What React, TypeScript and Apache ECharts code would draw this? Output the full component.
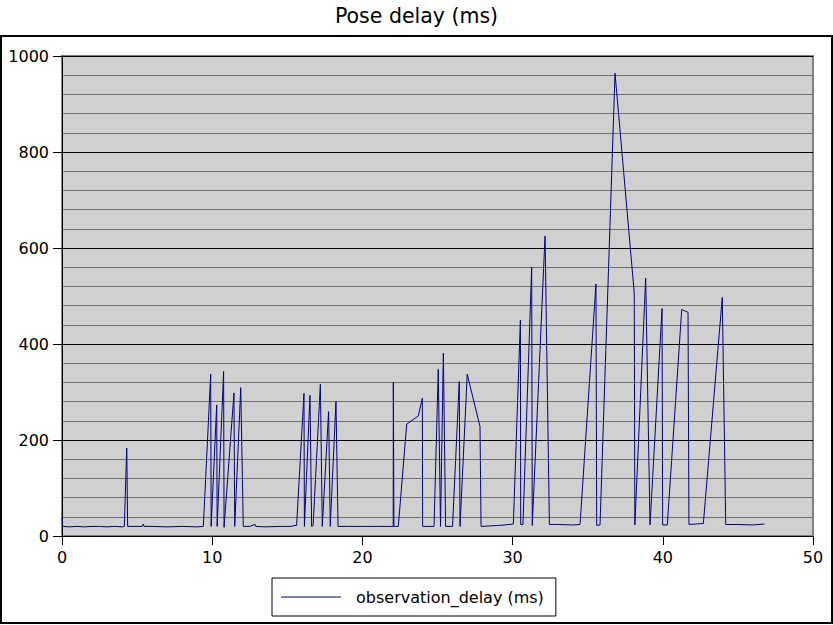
import React, { useEffect, useRef } from "react";
import * as echarts from "echarts";

const titleText = "Pose delay (ms)";
const seriesName = "observation_delay (ms)";

const timeS: number[] = [
  0, 0.05, 0.5, 1.0, 1.5, 2.0, 2.5, 3.0, 3.5, 4.0, 4.15, 4.31, 4.37, 4.8, 5.35, 5.41, 5.47, 6.0, 7.0, 8.0, 9.0,
  9.41, 9.9, 9.93, 10.3, 10.33, 10.76, 10.79, 11.45, 11.5, 11.9, 12.07, 12.5, 12.85, 12.9, 13.5, 14.5, 15.3,
  15.45, 15.62, 16.11, 16.14, 16.51, 16.62, 16.72, 17.2, 17.33, 17.75, 17.86, 18.24, 18.38, 19.0, 20.0, 21.0,
  22.05, 22.06, 22.1, 22.39, 22.95, 23.72, 23.99, 24.01, 24.77, 25.05, 25.2, 25.39, 25.54, 26.0, 26.45, 26.5,
  26.98, 27.83, 27.9, 28.5, 29.0, 29.5, 30.05, 30.52, 30.54, 30.69, 31.27, 31.31, 32.16, 32.45, 33.0, 34.0,
  34.49, 35.55, 35.6, 35.82, 36.82, 38.1, 38.14, 38.86, 39.15, 39.95, 39.99, 40.3, 41.26, 41.68, 41.74, 42.7,
  43.96, 44.19, 45.0, 46.0, 46.76,
];

const delayMs: number[] = [
  38, 20, 19, 20, 19, 20, 20, 19, 20, 19, 20, 183, 20, 20, 20, 25, 20, 20, 19, 20, 19,
  20, 337, 20, 273, 20, 343, 18, 298, 20, 309, 20, 20, 24, 20, 19, 20, 20,
  22, 22, 297, 20, 293, 20, 22, 316, 20, 259, 20, 280, 20, 20, 20, 20,
  20, 320, 20, 20, 233, 250, 287, 20, 20, 347, 20, 381, 20, 20, 322, 20,
  337, 228, 20, 21, 22, 23, 25, 450, 24, 24, 560, 22, 625, 24, 24, 23,
  24, 525, 22, 23, 964, 506, 23, 537, 23, 474, 23, 23, 472, 466, 24, 26,
  497, 24, 24, 23, 25,
];

const xTicks = { min: 0, max: 50, interval: 10 };
const yTicks = { min: 0, max: 1000, interval: 200 };

export default function App() {
  const ref = useRef<HTMLDivElement>(null);
  useEffect(() => {
    if (!ref.current) return;
    const chart = echarts.init(ref.current, undefined, { renderer: "svg" });
    const data = timeS.map((t, i) => [t, delayMs[i]]);
    const font = "DejaVu Sans";
    chart.setOption({
      animation: false,
      backgroundColor: "#ffffff",
      title: {
        text: titleText,
        left: "center",
        top: 0,
        textStyle: { fontFamily: font, fontSize: 20.5, fontWeight: "normal", color: "#000" },
      },
      grid: {
        left: 62,
        right: 20,
        top: 56,
        bottom: 89,
        show: true,
        backgroundColor: "#d0d0d0",
        borderColor: "#808080",
        borderWidth: 2,
      },
      legend: {
        left: 272,
        top: 578,
        padding: [11, 12, 11, 9],
        borderColor: "#000",
        borderWidth: 1,
        backgroundColor: "#fff",
        icon: "rect",
        itemWidth: 60,
        itemHeight: 1,
        textStyle: { fontFamily: font, fontSize: 16, color: "#000", padding: [0, 0, 0, 10] },
        data: [{ name: seriesName, icon: "rect", itemStyle: { color: "#000080" } }],
      },
      xAxis: {
        type: "value",
        min: xTicks.min,
        max: xTicks.max,
        interval: xTicks.interval,
        axisLine: { lineStyle: { color: "#000", width: 1 } },
        axisTick: { show: true, length: 9, lineStyle: { color: "#000" } },
        axisLabel: { fontFamily: font, fontSize: 16, color: "#000", margin: 13 },
        splitLine: { show: false },
      },
      yAxis: {
        type: "value",
        min: yTicks.min,
        max: yTicks.max,
        interval: yTicks.interval,
        axisLine: { show: true, lineStyle: { color: "#000", width: 1 } },
        axisTick: { show: true, length: 9, lineStyle: { color: "#000" } },
        axisLabel: {
          fontFamily: font,
          fontSize: 16,
          color: "#000",
          margin: 13,
          formatter: (v: number) => String(v),
        },
        splitLine: { show: true, lineStyle: { color: "#000", width: 1 } },
        minorTick: { show: false, splitNumber: 5 },
        minorSplitLine: { show: true, lineStyle: { color: "#707070", width: 1 } },
      },
      series: [
        {
          name: seriesName,
          type: "line",
          data,
          symbol: "none",
          showSymbol: false,
          lineStyle: { color: "#000080", width: 1 },
          itemStyle: { color: "#000080" },
        },
      ],
      graphic: [
        {
          type: "rect",
          shape: { x: 1, y: 36, width: 831, height: 587 },
          style: { fill: "none", stroke: "#000", lineWidth: 2 },
          silent: true,
          z: -1,
        },
      ],
    });
    return () => chart.dispose();
  }, []);
  return <div ref={ref} style={{ width: 833, height: 625, position: "absolute", left: 0, top: 0 }} />;
}
